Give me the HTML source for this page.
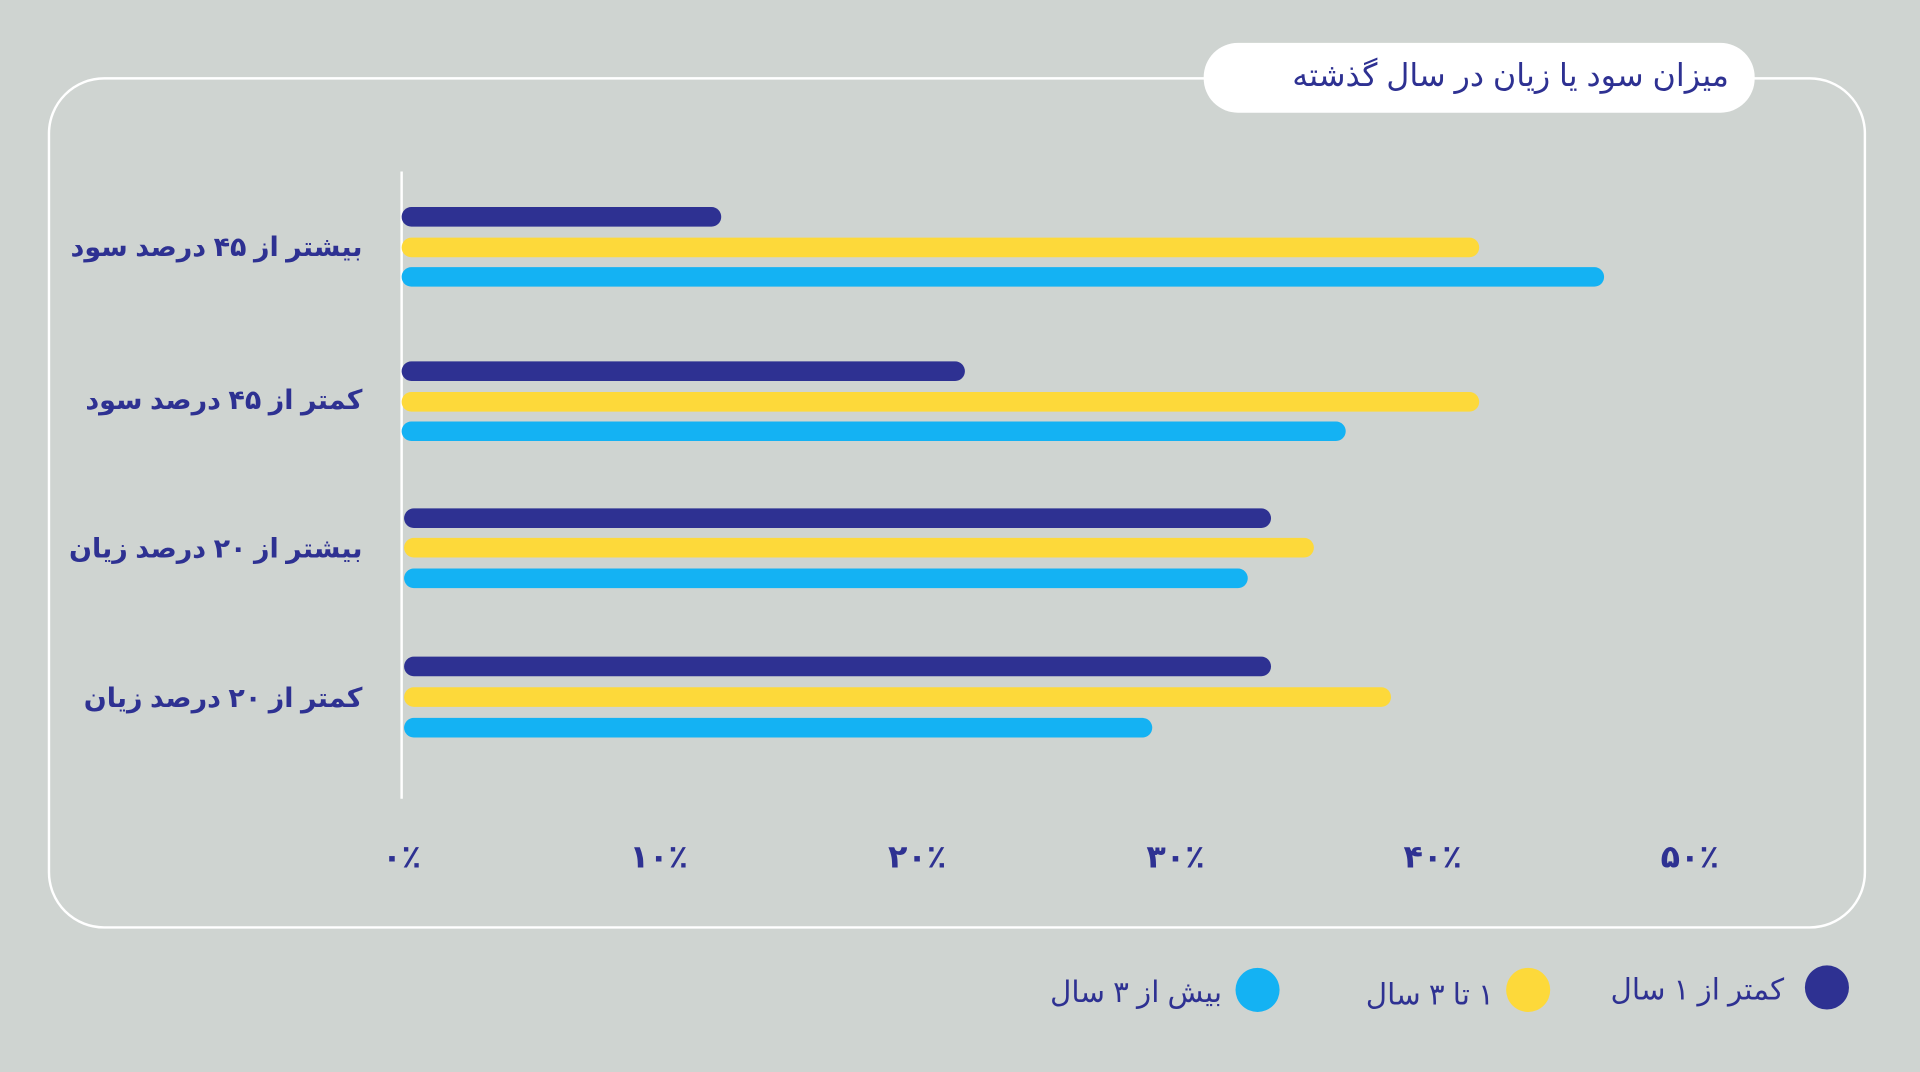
<!DOCTYPE html>
<html><head><meta charset="utf-8">
<style>
html,body{margin:0;padding:0;background:#cfd4d1;}
svg{display:block;}
text{font-family:"Liberation Sans","DejaVu Sans","Noto Sans CJK SC",sans-serif;}
</style></head>
<body>
<svg width="1920" height="1072" viewBox="0 0 1568 875" preserveAspectRatio="none" xmlns="http://www.w3.org/2000/svg">
<rect width="1568" height="875" fill="#cfd4d1"/>
<rect x="40" y="64" width="1483" height="693" rx="45" fill="none" stroke="#ffffff" stroke-width="2"/>
<rect x="983" y="35" width="450" height="57" rx="28" fill="#ffffff"/>
<text x="1412" y="70" text-anchor="end" font-size="26" fill="#2e3192">میزان سود یا زیان در سال گذشته</text>
<line x1="328" y1="140" x2="328" y2="652" stroke="#ffffff" stroke-width="2"/>
<g stroke-linecap="round" stroke-width="16">
<line x1="336" y1="177" x2="581" y2="177" stroke="#2e3192"/>
<line x1="336" y1="202" x2="1200" y2="202" stroke="#fdd93a"/>
<line x1="336" y1="226" x2="1302" y2="226" stroke="#14b2f3"/>
<line x1="336" y1="303" x2="780" y2="303" stroke="#2e3192"/>
<line x1="336" y1="328" x2="1200" y2="328" stroke="#fdd93a"/>
<line x1="336" y1="352" x2="1091" y2="352" stroke="#14b2f3"/>
<line x1="338" y1="423" x2="1030" y2="423" stroke="#2e3192"/>
<line x1="338" y1="447" x2="1065" y2="447" stroke="#fdd93a"/>
<line x1="338" y1="472" x2="1011" y2="472" stroke="#14b2f3"/>
<line x1="338" y1="544" x2="1030" y2="544" stroke="#2e3192"/>
<line x1="338" y1="569" x2="1128" y2="569" stroke="#fdd93a"/>
<line x1="338" y1="594" x2="933" y2="594" stroke="#14b2f3"/>
</g>
<g font-size="22" font-weight="bold" fill="#2e3192" text-anchor="end">
<text x="296" y="209">بیشتر از ۴۵ درصد سود</text>
<text x="296" y="334">کمتر از ۴۵ درصد سود</text>
<text x="296" y="455">بیشتر از ۲۰ درصد زیان</text>
<text x="296" y="577">کمتر از ۲۰ درصد زیان</text>
</g>
<g font-size="26" font-weight="bold" fill="#2e3192" text-anchor="middle">
<text x="328" y="708">۰٪</text>
<text x="538" y="708">۱۰٪</text>
<text x="749" y="708">۲۰٪</text>
<text x="960" y="708">۳۰٪</text>
<text x="1170" y="708">۴۰٪</text>
<text x="1380" y="708">۵۰٪</text>
</g>
<circle cx="1492" cy="806" r="18" fill="#2e3192"/>
<circle cx="1248" cy="808" r="18" fill="#fdd93a"/>
<circle cx="1027" cy="808" r="18" fill="#14b2f3"/>
<g font-size="24" fill="#2e3192" text-anchor="end">
<text x="1457" y="816">کمتر از ۱ سال</text>
<text x="1220" y="820">&#x200F;۱ تا ۳ سال</text>
<text x="998" y="818">بیش از ۳ سال</text>
</g>
</svg>
</body></html>
